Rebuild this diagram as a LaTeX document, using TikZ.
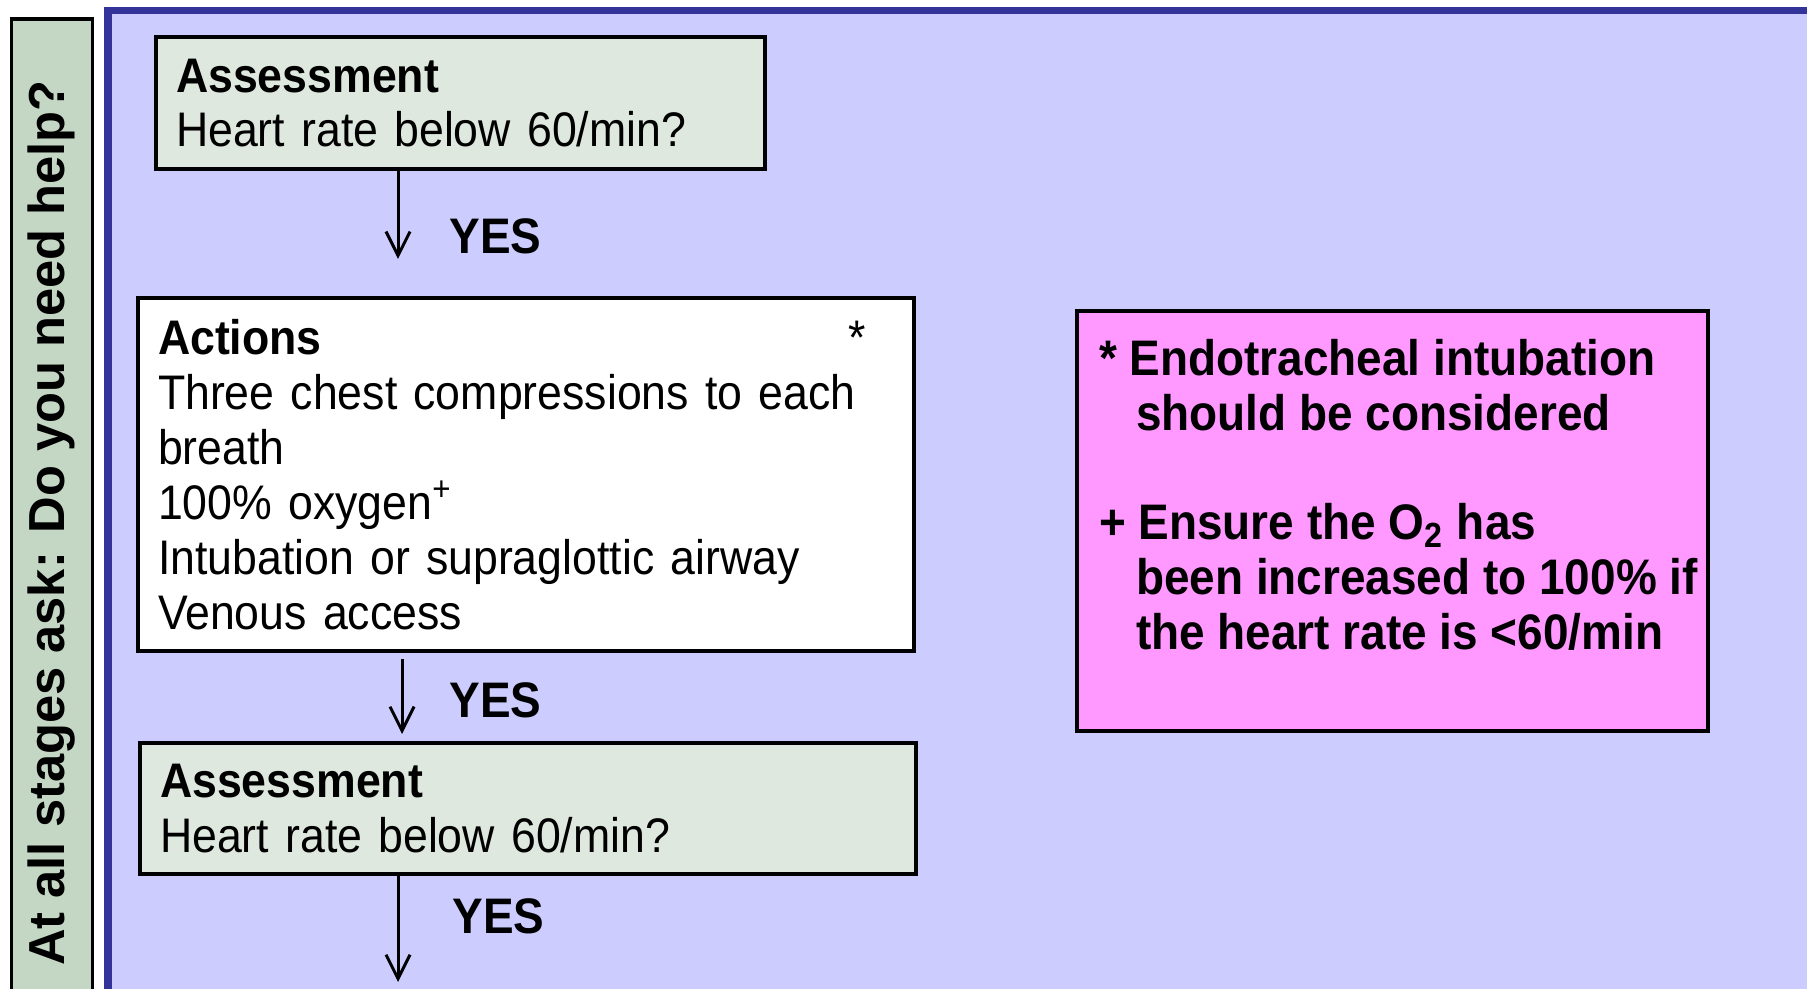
\documentclass[tikz,border=0pt]{standalone}
\usepackage{fontspec}
\setmainfont{Liberation Sans}[FakeStretch=0.92]
\newfontfamily\sidefont{Liberation Sans}
\usetikzlibrary{arrows.meta,positioning}
\definecolor{sidebar}{RGB}{196,215,196}
\definecolor{panel}{RGB}{204,204,255}
\definecolor{panelrim}{RGB}{51,51,153}
\definecolor{assess}{RGB}{222,232,222}
\definecolor{notepink}{RGB}{255,153,255}

\begin{document}
\begin{tikzpicture}[x=0.01cm, y=-0.01cm,
  >={Straight Barb[length=0.24cm,width=0.24cm]},
  box/.style={rectangle, draw, line width=0.04cm, anchor=north west, align=left,
    inner xsep=0.2cm, inner ysep=0pt, font=\fontsize{13.8}{15.6}\selectfont},
  yes/.style={anchor=west, inner sep=0pt, font=\fontsize{14.2}{15.6}\selectfont\bfseries},
  flow/.style={->, line width=0.03cm}]
\clip (0,0) rectangle (1807,989);
\fill[white] (0,0) rectangle (1807,989);

% side bar and panel
\node[rectangle, draw, line width=0.035cm, fill=sidebar, rotate=90, minimum width=10.07cm,
  minimum height=0.805cm, font=\sidefont\fontsize{14.4}{16}\selectfont\bfseries] (help) at (52,523)
  {At all stages ask: Do you need help?};
\draw[panelrim, fill=panel, line width=0.075cm] (108,10.5) rectangle (1850,1050);

% flow boxes
\node[box, fill=assess, text width=5.69cm, minimum height=1.32cm] (assess1) at (154,35)
  {\textbf{Assessment}\\Heart rate below 60/min?};
\node[box, fill=white, text width=7.36cm, minimum height=3.53cm] (actions) at (136,296)
  {\textbf{Actions}\hfill *\kern0.29cm\\
   Three chest compressions to each\\
   breath\\
   100\% oxygen\textsuperscript{+}\\
   Intubation or supraglottic airway\\
   Venous access};
\node[box, fill=assess, text width=7.36cm, minimum height=1.31cm] (assess2) at (138,741)
  {\textbf{Assessment}\\Heart rate below 60/min?};

% notes
\node[rectangle, draw, line width=0.04cm, fill=notepink, anchor=north west, inner xsep=0pt,
  inner ysep=0.28cm, font=\fontsize{14.2}{15.6}\selectfont\bfseries] (note) at (1075,309)
  {\parbox[c][3.64cm][t]{6.31cm}{\leftskip=0.22cm \rightskip=0pt plus 1fil
   \hangindent=0.37cm \hangafter=1 * Endotracheal intubation\\should be considered\par
   \vspace{0.55cm}
   \hangindent=0.37cm \hangafter=1 + Ensure the O\textsubscript{2} has\\been increased to 100\% if\\the heart rate is <60/min\par}};

% arrows
\coordinate (lane) at (398,0);
\coordinate (lane2) at (402,0);
\coordinate (exit) at (398,982);
\draw[flow, shorten >=0.37cm] (assess1.south -| lane) -- (actions.north -| lane);
\draw[flow, shorten <=0.06cm, shorten >=0.07cm] (actions.south -| lane2) -- (assess2.north -| lane2);
\draw[flow] (assess2.south -| exit) -- (exit);

\node[yes] (yes1) at (449,236) {YES};
\node[yes] (yes2) at (449,700) {YES};
\node[yes] (yes3) at (452,916) {YES};
\end{tikzpicture}
\end{document}
